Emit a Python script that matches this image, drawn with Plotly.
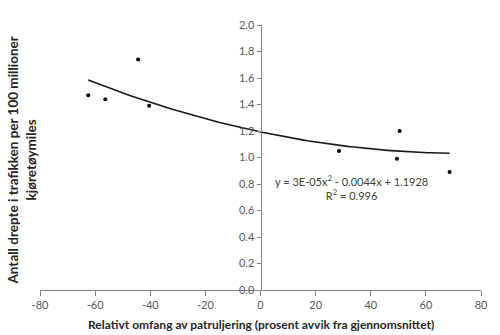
import numpy as np
import plotly.graph_objects as go

x_vals = [-62.5, -56.3, -44.4, -40.4, 28.5, 50.5, 49.5, 68.6]
y_vals = [1.47, 1.44, 1.74, 1.39, 1.05, 1.20, 0.99, 0.89]
coef = [3e-05, -0.0044, 1.1928]  # trendline coefficients from label
x_ticks = [-80, -60, -40, -20, 0, 20, 40, 60, 80]
y_ticks = [0.0, 0.2, 0.4, 0.6, 0.8, 1.0, 1.2, 1.4, 1.6, 1.8, 2.0]

xt = np.linspace(min(x_vals), max(x_vals), 100)
yt = np.polyval(coef, xt)

FONT = "Lato"
fig = go.Figure()
fig.add_trace(go.Scatter(x=xt, y=yt, mode="lines",
                         line=dict(color="#1a1a1a", width=1.6), hoverinfo="skip"))
fig.add_trace(go.Scatter(x=x_vals, y=y_vals, mode="markers",
                         marker=dict(color="black", size=4)))

fig.update_layout(
    width=500, height=335,
    margin=dict(l=40, r=17, t=25, b=45),
    paper_bgcolor="white", plot_bgcolor="white",
    showlegend=False,
    font=dict(family=FONT, size=11, color="#595959"),
    xaxis=dict(range=[-80, 80], tickvals=x_ticks, ticktext=[str(v) for v in x_ticks],
               showgrid=False, zeroline=False, showline=True, linecolor="#868686",
               linewidth=1, ticks="outside", ticklen=5, tickcolor="#868686",
               tickfont=dict(size=11, color="#595959")),
    yaxis=dict(range=[0, 2.0], tickvals=y_ticks, ticktext=[f"{v:.1f}" for v in y_ticks],
               anchor="free", position=0.5,
               showgrid=False, zeroline=False, showline=True, linecolor="#868686",
               linewidth=1, ticks="outside", ticklen=4, tickcolor="#868686",
               tickfont=dict(size=11, color="#595959")),
)

fig.add_annotation(xref="paper", yref="paper", x=0.5, y=-0.132, yanchor="middle",
                   text="<b>Relativt omfang av patruljering (prosent avvik fra gjennomsnittet)</b>",
                   showarrow=False, font=dict(size=12, color="#262626", family=FONT))
fig.add_annotation(xref="paper", yref="paper", x=-0.04, y=0.49, xanchor="center",
                   yanchor="middle", textangle=-90,
                   text="<b>Antall drepte i trafikken per 100 millioner<br>kjøretøymiles</b>",
                   showarrow=False, font=dict(size=13.5, color="#262626", family=FONT))
fig.add_annotation(x=33, y=0.77, xref="x", yref="y",
                   text="y = 3E-05x<sup>2</sup> - 0.0044x + 1.1928<br>R<sup>2</sup> = 0.996",
                   showarrow=False, align="center",
                   font=dict(size=11, color="#404040", family=FONT))

fig.write_html("out.html")
